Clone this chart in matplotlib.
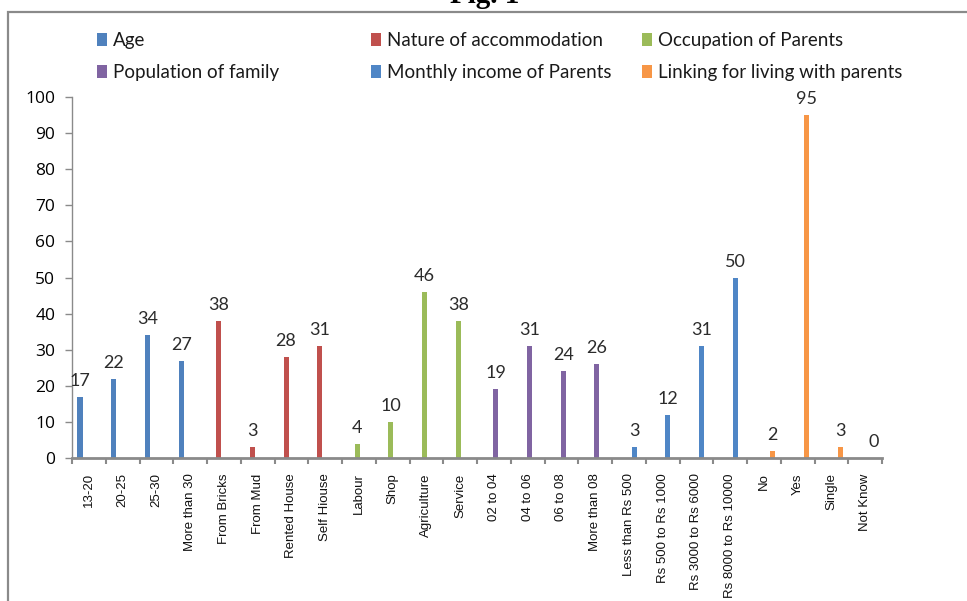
import numpy as np
import matplotlib
matplotlib.use("Agg")
import matplotlib.pyplot as plt
from matplotlib.patches import Rectangle, Patch

categories = ["13-20", "20-25", "25-30", "More than 30",
              "From Bricks", "From Mud", "Rented House", "Self Hiouse",
              "Labour", "Shop", "Agriculture", "Service",
              "02 to 04", "04 to 06", "06 to 08", "More than 08",
              "Less than Rs 500", "Rs 500 to Rs 1000", "Rs 3000 to Rs 6000", "Rs 8000 to Rs 10000",
              "No", "Yes", "Single", "Not Know"]

series_names = ["Age", "Nature of accommodation", "Occupation of Parents",
                "Population of family", "Monthly income of Parents",
                "Linking for living with parents"]
age = [17, 22, 34, 27]
accommodation = [38, 3, 28, 31]
occupation = [4, 10, 46, 38]
population = [19, 31, 24, 26]
income = [3, 12, 31, 50]
linking = [2, 95, 3, 0]
series_values = [age, accommodation, occupation, population, income, linking]
colors = ["#4F81BD", "#C0504D", "#9BBB59", "#8064A2", "#4F86C6", "#F79646"]

W, H = 967, 601
fig = plt.figure(figsize=(W / 100, H / 100), dpi=100)
fig.patch.set_facecolor("white")

# outer frame
fig.patches.append(Rectangle((8 / W, -0.1), 1.2, 1 - 12 / H + 0.1, transform=fig.transFigure,
                             fill=False, edgecolor="#8a8a8a", lw=1.6, clip_on=False))
fig.text(485 / W, 1 - 3 / H, "Fig. 1", ha="center", va="baseline",
         fontsize=21, fontweight="bold", family="Liberation Serif")

ax = fig.add_axes([72 / W, 1 - 458 / H, (882 - 72) / W, (458 - 97) / H])
n = len(categories)
bw = 0.15
handles = []
for si, (name, vals, c) in enumerate(zip(series_names, series_values, colors)):
    idx = np.arange(si * 4, si * 4 + len(vals))
    x = idx + 0.5 + (si - 2.5) * 0.105
    ax.bar(x, vals, width=bw, color=c, zorder=2)
    for xi, v in zip(x, vals):
        ax.text(xi, v + 2.2, str(v), ha="center", va="bottom", fontsize=13,
                color="#2b2b2b", family="Lato")
    handles.append(Patch(facecolor=c, edgecolor="none"))

ax.set_xlim(0, n)
ax.set_ylim(0, 100)
ax.set_yticks(np.arange(0, 101, 10))
ax.set_xticks(np.arange(0, n + 1), minor=False)
ax.set_xticklabels([])
ax.set_xticks(np.arange(n) + 0.5, minor=True)
ax.set_xticklabels(categories, minor=True, rotation=90, fontsize=9.5,
                   family="Liberation Sans", va="top", ha="center", color="#111111")
ax.tick_params(axis="x", which="minor", length=0, pad=11)
ax.tick_params(axis="x", which="major", length=4, color="#8a8a8a", width=1.5)
ax.tick_params(axis="y", length=5, color="#8a8a8a", width=1, pad=7)
for lab in ax.get_yticklabels():
    lab.set_family("Open Sans")
    lab.set_fontsize(12.5)
for s in ["top", "right"]:
    ax.spines[s].set_visible(False)
ax.spines["left"].set_color("#8a8a8a")
ax.spines["left"].set_linewidth(1)
ax.spines["bottom"].set_color("#8a8a8a")
ax.spines["bottom"].set_linewidth(2)

# legend: three columns, two rows
col_x = [88, 362, 633]
for ci in range(3):
    hs = [handles[ci], handles[ci + 3]]
    ls = [series_names[ci], series_names[ci + 3]]
    fig.legend(hs, ls, loc="upper left", bbox_to_anchor=(col_x[ci] / W, 1 - 23 / H),
               frameon=False, prop={"family": "Lato", "size": 13.5},
               handlelength=0.5, handleheight=0.7, handletextpad=0.35,
               labelspacing=0.8, borderpad=0, labelcolor="#1a1a1a")

fig.savefig("out.png", dpi=100)
